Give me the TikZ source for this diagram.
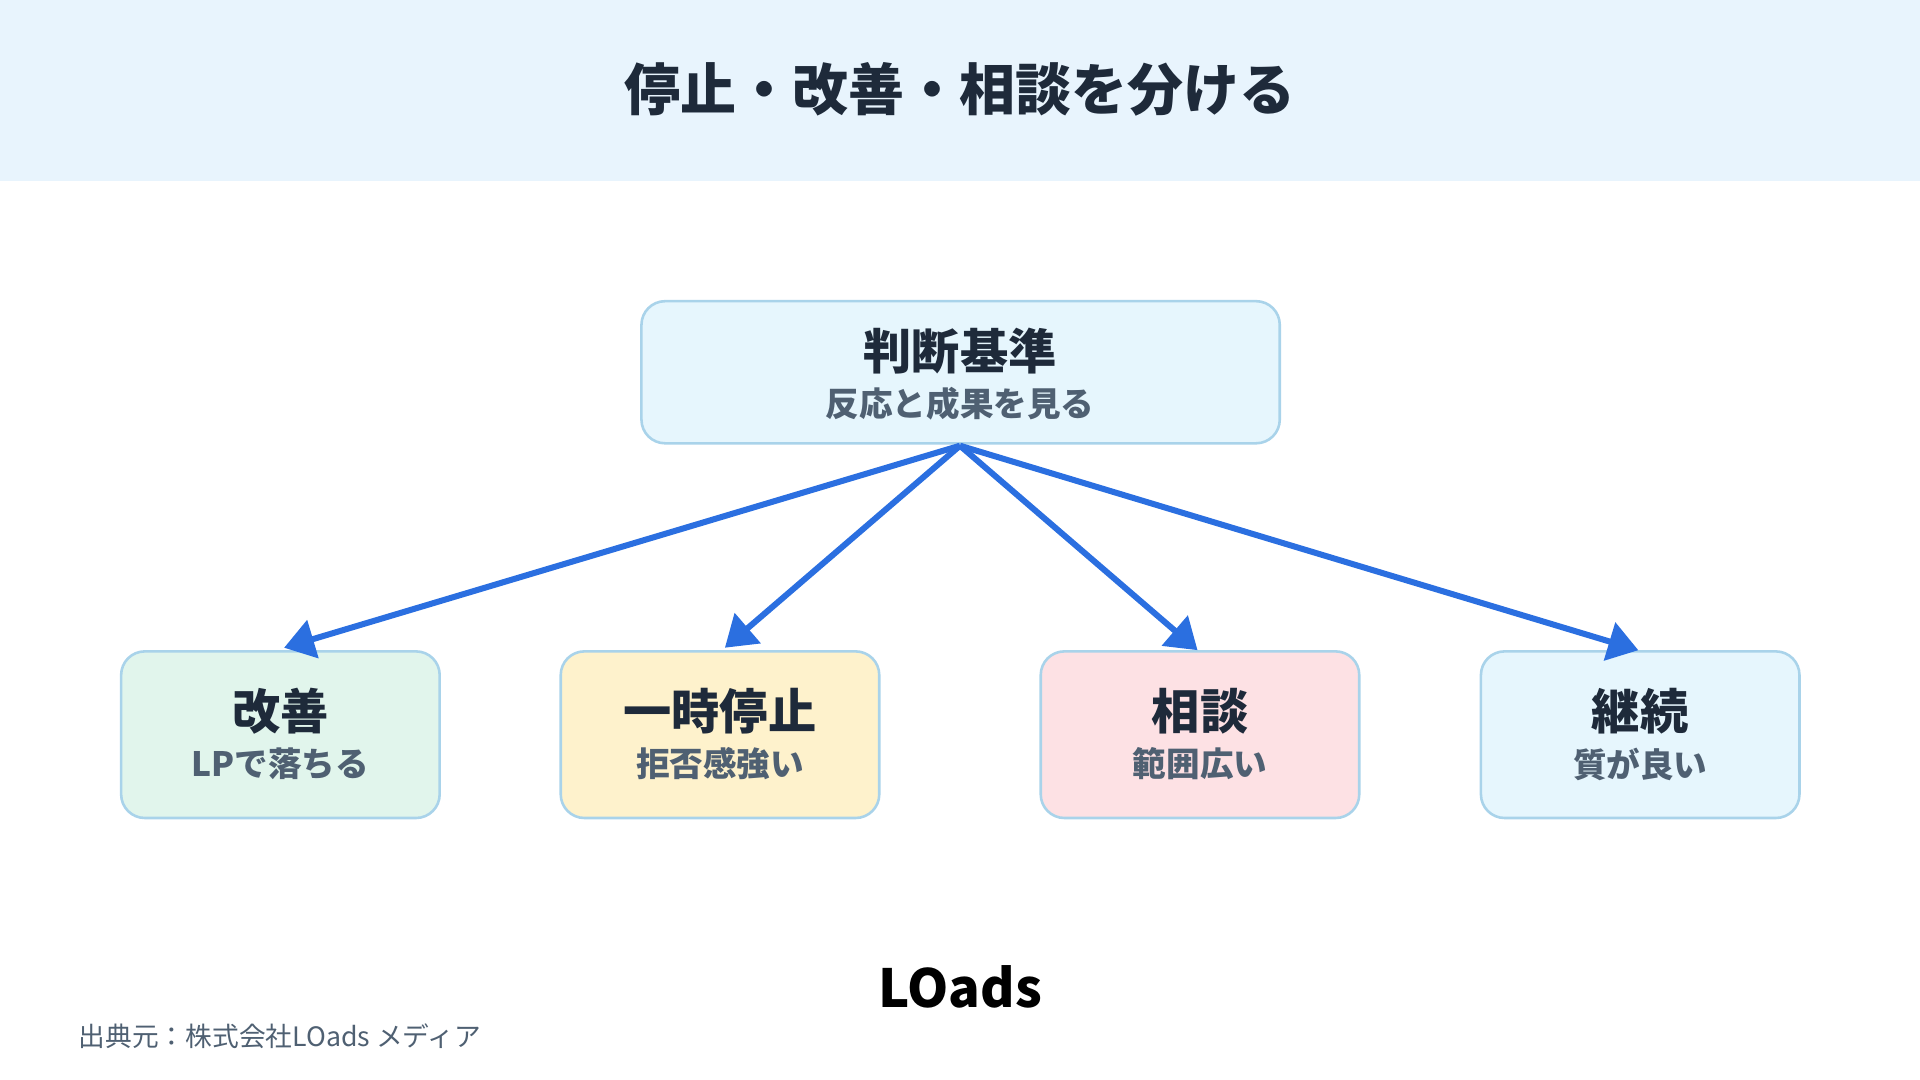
\documentclass[tikz,border=0pt]{standalone}
\usepackage{fontspec}
\setmainfont{Noto Sans CJK JP}
\usetikzlibrary{arrows.meta,positioning}
\definecolor{navy}{HTML}{1E2A3A}
\definecolor{subgray}{HTML}{4F6072}
\definecolor{band}{HTML}{E8F4FD}
\definecolor{edge}{HTML}{A9D3EA}
\definecolor{arrowblue}{HTML}{2B6FE0}
\definecolor{fillblue}{HTML}{E6F6FD}
\definecolor{fillgreen}{HTML}{E1F5EC}
\definecolor{fillyellow}{HTML}{FEF2CC}
\definecolor{fillpink}{HTML}{FDE1E4}
\tikzset{
  box/.style={draw=edge,line width=0.6pt,rounded corners=5.5pt,minimum width=2.6cm,minimum height=1.36cm},
  head/.style={font=\fontsize{11.2}{13}\selectfont\bfseries,text=navy},
  sub/.style={font=\fontsize{7.8}{9}\selectfont\bfseries,text=subgray},
  link/.style={draw=arrowblue,line width=1.4pt,-{Triangle[length=7pt,width=9pt]}}
}
\begin{document}
\begin{tikzpicture}[x=0.01cm,y=-0.01cm]
  \useasboundingbox (0,0) rectangle (1568,882);
  \fill[band] (0,0) rectangle (1568,148);
  \node[font=\fontsize{13}{15}\selectfont\bfseries,text=navy] (title) at (784,73) {停止・改善・相談を分ける};

  % top box
  \node[box,fill=fillblue,minimum width=5.21cm,minimum height=1.16cm] (root) at (784.5,304) {};
  \node[head] (rootT) at (784,287) {判断基準};
  \node[sub] (rootS) at (784,330) {反応と成果を見る};

  % bottom boxes
  \foreach \name/\x/\col/\t/\s in {kaizen/229/fillgreen/改善/LPで落ちる,
      teishi/588/fillyellow/一時停止/拒否感強い,
      soudan/980/fillpink/相談/範囲広い,
      keizoku/1339.5/fillblue/継続/質が良い} {
    \node[box,fill=\col] (\name) at (\x,600) {};
    \node[head] at (\x,581) {\t};
    \node[sub] at (\x,624) {\s};
  }

  \coordinate (from) at (784,364);
  \coordinate (toA) at (232,529);
  \coordinate (toB) at (592,529);
  \coordinate (toC) at (978,531);
  \coordinate (toD) at (1338,531);
  \foreach \p in {toA,toB,toC,toD}
    \draw[link] (from) -- (\p);

  \node[font=\fontsize{12.2}{14}\selectfont\bfseries] (logo) at (784,806) {LOads};
  \node[anchor=west,font=\fontsize{6.2}{7}\selectfont,text=subgray] (source) at (52,846) {出典元：株式会社LOads メディア};
\end{tikzpicture}
\end{document}
